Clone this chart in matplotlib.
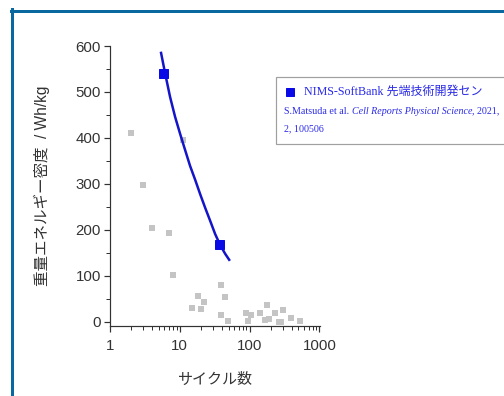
import numpy as np
import matplotlib.pyplot as plt
from matplotlib.lines import Line2D
from matplotlib.patches import Rectangle
from matplotlib.ticker import FixedLocator, NullFormatter

plt.rcParams['font.family'] = ['Liberation Sans', 'Noto Sans CJK JP', 'DejaVu Sans']

# gray: other reported cells (cycles, Wh/kg)
other_cycles = [2, 3, 4, 7, 8, 11, 15, 18, 20, 22.5, 39, 44, 39, 49,
                89, 104, 96, 142, 177, 167, 189, 228, 260, 300, 284, 391, 532]
other_energy = [410, 297, 204, 194, 101, 396, 30, 57, 28, 44, 80, 54, 15, 2,
                20, 15, 2, 19, 36, 4, 6, 19, 0, 26, 0, 8, 2]

# NIMS-SoftBank points
nims_cycles = [5.8, 36.6]
nims_energy = [542, 170]

# trend line
trend_cycles = [5.39, 6.15, 7.26, 8.56, 10.1, 11.9, 14.05, 16.6, 19.55, 23.1,
                27.2, 32.1, 37.9, 44.7, 51.0]
trend_energy = [585, 541, 489, 446, 409, 374, 339, 309, 278, 248,
                220, 191, 167, 148, 135]

yticks = [0, 100, 200, 300, 400, 500, 600]
xticks = [1, 10, 100, 1000]
xticklabels = ['1', '10', '100', '1000']

fig = plt.figure(figsize=(7, 5.5), dpi=72)
W, H = 504, 396
ax = fig.add_axes([110 / W, 1 - 326 / H, 210 / W, 280 / H])

ax.scatter(other_cycles, other_energy, marker='s', s=36, color='#c4c4c4',
           linewidths=0, zorder=2)
ax.plot(trend_cycles, trend_energy, color='#1414c8', lw=2.5, zorder=3,
        solid_joinstyle='round')
ax.plot(nims_cycles, nims_energy, 's', color='#0a0ae6', ms=9, zorder=4)

ax.set_xscale('log')
ax.set_xlim(1, 1020)
ax.set_ylim(-9, 600)
ax.set_xticks(xticks)
ax.set_xticklabels(xticklabels)
ax.set_yticks(yticks)
ax.yaxis.set_minor_locator(FixedLocator([50, 150, 250, 350, 450, 550]))
ax.xaxis.set_minor_formatter(NullFormatter())
for s in ['top', 'right']:
    ax.spines[s].set_visible(False)
for s in ['left', 'bottom']:
    ax.spines[s].set_linewidth(1.2)
    ax.spines[s].set_color('#333333')
ax.tick_params(which='major', direction='out', length=6, width=1.2,
               labelsize=15, colors='#333333', pad=3)
ax.tick_params(which='minor', direction='out', length=4, width=1.0, colors='#333333')
ax.tick_params(axis='x', pad=7)

ax.set_ylabel('重量エネルギー密度  / Wh/kg', fontsize=15.5, color='#333333', labelpad=26)
ax.set_xlabel('サイクル数', fontsize=15, color='#333333', labelpad=20)

# outer blue frame
fig.add_artist(Line2D([11 / W, 1], [1 - 10.5 / H] * 2, color='#0a68a0', lw=3,
                      transform=fig.transFigure))
fig.add_artist(Line2D([12 / W] * 2, [0, 1 - 9 / H], color='#0a68a0', lw=3,
                      transform=fig.transFigure))

# legend box
fig.add_artist(Rectangle((276 / W, 1 - 144 / H), 240 / W, 67 / H,
                         transform=fig.transFigure, facecolor='white',
                         edgecolor='#a0a0a0', lw=1.2, clip_on=False))
serif = ['Liberation Serif', 'Noto Sans CJK JP']
blue = '#2a2ae8'
fig.add_artist(Line2D([290 / W], [1 - 92 / H], marker='s', ms=8, color='#0a0ae6',
                      lw=0, transform=fig.transFigure))
fig.text(304 / W, 1 - 92 / H, 'NIMS-SoftBank 先端技術開発セン', family=serif,
         fontsize=12, color=blue, va='center')

fig.canvas.draw()
r = fig.canvas.get_renderer()
x = 284
parts = [('S.Matsuda et al. ', 'normal'), ('Cell Reports Physical Science', 'italic'),
         (', 2021,', 'normal')]
for txt, st in parts:
    t = fig.text(x / W, 1 - 111 / H, txt, family=serif, fontsize=10, style=st,
                 color=blue, va='center')
    x += t.get_window_extent(r).width
fig.text(284 / W, 1 - 129 / H, '2, 100506', family=serif, fontsize=10,
         color=blue, va='center')

fig.savefig('out.png', dpi=72)
